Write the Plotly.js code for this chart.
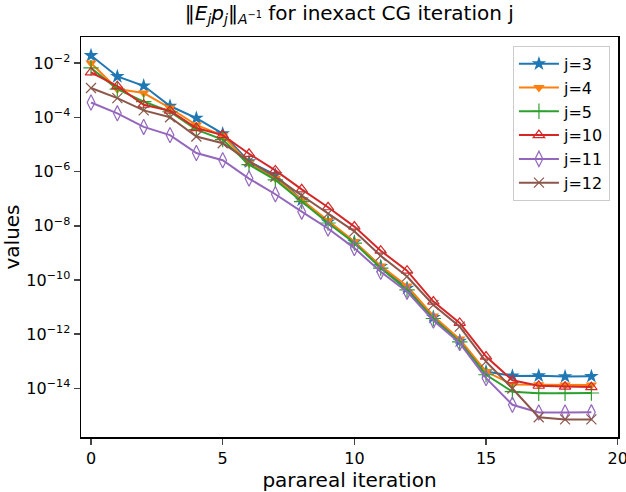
<!DOCTYPE html>
<html>
<head>
<meta charset="utf-8">
<script src="https://cdn.plot.ly/plotly-3.0.1.min.js"></script>
<style>html,body{margin:0;padding:0;background:#fff;}#chart{width:626px;height:492px;}</style>
</head>
<body>
<div id="chart"></div>
<script>
const iterations = [0,1,2,3,4,5,6,7,8,9,10,11,12,13,14,15,16,17,18,19];
const seriesNames = ["j=3","j=4","j=5","j=10","j=11","j=12"];
const j3  = [1.9e-2,3.2e-3,1.45e-3,2.6e-4,9.3e-5,2.5e-5,2.3e-6,7.6e-7,8.9e-8,1.4e-8,2.5e-9,3.2e-10,5.0e-11,4.2e-12,5.6e-13,4.2e-14,2.9e-14,2.95e-14,2.75e-14,2.8e-14];
const j4  = [1.0e-2,1.1e-3,7.8e-4,2.2e-4,5.2e-5,2.1e-5,2.0e-6,5.6e-7,9.1e-8,1.55e-8,2.6e-9,3.3e-10,6.0e-11,4.7e-12,6.6e-13,4.2e-14,1.4e-14,1.38e-14,1.35e-14,1.35e-14];
const j5  = [6.6e-3,1.1e-3,3.8e-4,1.6e-4,3.5e-5,1.5e-5,1.8e-6,4.9e-7,7.8e-8,1.26e-8,2.3e-9,2.75e-10,4.3e-11,3.8e-12,5.2e-13,3.2e-14,7.6e-15,6.6e-15,6.6e-15,6.8e-15];
const j10 = [4.5e-3,1.4e-3,2.9e-4,1.75e-4,4.0e-5,2.2e-5,4.5e-6,1.1e-6,2.2e-7,4.8e-8,9.3e-9,1.2e-9,2.2e-10,1.6e-11,2.6e-12,1.5e-13,2.0e-14,1.26e-14,1.17e-14,1.12e-14];
const j11 = [3.5e-4,1.4e-4,4.4e-5,2.2e-5,4.8e-6,2.6e-6,5.5e-7,1.45e-7,3.3e-8,7.9e-9,1.5e-9,2.0e-10,3.7e-11,3.2e-12,4.7e-13,2.4e-14,2.5e-15,1.3e-15,1.3e-15,1.32e-15];
const j12 = [1.2e-3,5.1e-4,1.8e-4,1.0e-4,1.95e-5,1.1e-5,2.4e-6,6.3e-7,1.3e-7,2.8e-8,6.2e-9,7.8e-10,1.35e-10,1.2e-11,1.9e-12,9.8e-14,1.0e-14,8.7e-16,7.2e-16,7.2e-16];
const yTickVals = [1e-14,1e-12,1e-10,1e-8,1e-6,1e-4,1e-2];
const yTickText = ["10<sup>−14</sup>","10<sup>−12</sup>","10<sup>−10</sup>","10<sup>−8</sup>","10<sup>−6</sup>","10<sup>−4</sup>","10<sup>−2</sup>"];
const xTickVals = [0,5,10,15,20];

const allSeries = [j3,j4,j5,j10,j11,j12];
const colors = ["#1f77b4","#ff7f0e","#2ca02c","#d62728","#9467bd","#8c564b"];
const symbols = ["star","triangle-down","cross-thin-open","triangle-up-open","diamond-tall-open","x-thin-open"];
const sizes = [11,10,11,10,11,10];

const traces = allSeries.map((ys,k)=>({
  x: iterations, y: ys, name: seriesNames[k], type: "scatter", mode: "lines+markers",
  line: {color: colors[k], width: 2},
  marker: {symbol: symbols[k], size: sizes[k], color: colors[k],
           line: {color: colors[k], width: (k===0||k===1)?0:1.2}}
}));

const font = "DejaVu Sans, sans-serif";
const layout = {
  width: 626, height: 492,
  margin: {l: 81, r: 8, t: 37, b: 55},
  paper_bgcolor: "#fff", plot_bgcolor: "#fff",
  font: {family: font, color: "#000", size: 16},
  title: {text: "‖<i>E<sub>j</sub>p<sub>j</sub></i>‖<sub><i>A</i><sup>−1</sup></sub> for inexact CG iteration j",
          font: {family: font, size: 20}, x: 0.558, xanchor: "center", y: 0.988, yanchor: "top"},
  xaxis: {range: [-0.38, 20.01], tickvals: xTickVals, ticks: "outside", ticklen: 6, tickwidth: 1.5,
          ticklabeloverflow: "allow",
          showline: true, linecolor: "#000", linewidth: 1.5, mirror: true, showgrid: false, zeroline: false,
          tickfont: {size: 16}, title: {text: "parareal iteration", font: {size: 20}, standoff: 2}},
  yaxis: {type: "log", range: [-15.79, -1.04], tickvals: yTickVals, ticktext: yTickText,
          ticks: "outside", ticklen: 6, tickwidth: 1.5,
          showline: true, linecolor: "#000", linewidth: 1.5, mirror: true, showgrid: false, zeroline: false,
          tickfont: {size: 16}, title: {text: "values", font: {size: 20}, standoff: 2}},
  legend: {x: 0.985, xanchor: "right", y: 0.978, yanchor: "top", bgcolor: "rgba(255,255,255,0.8)",
           bordercolor: "#cccccc", borderwidth: 1, font: {size: 16}, tracegroupgap: 0, itemwidth: 40}
};
Plotly.newPlot("chart", traces, layout, {staticPlot: true, displayModeBar: false});
</script>
</body>
</html>
